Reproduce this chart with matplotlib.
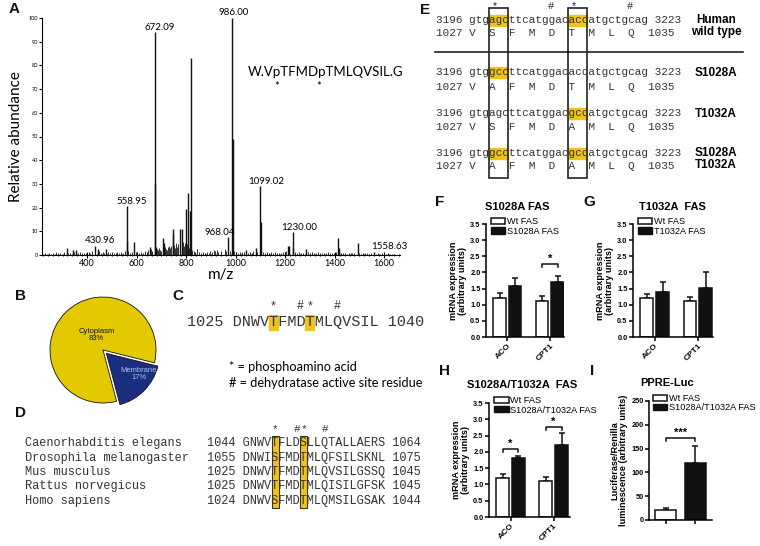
"""Multi-panel FAS phosphorylation figure: MS/MS spectrum, localisation pie,
sequence alignments and qPCR / reporter bar charts."""

import matplotlib
matplotlib.use("Agg")
import matplotlib.pyplot as plt
from matplotlib.patches import Rectangle, Patch

W, H = 760, 546
INK = "#111111"
SEQ = "#333333"
PIE_YELLOW = "#e3c900"
PIE_BLUE = "#1b2f80"
HILITE = "#f0c21c"
MONO = "Liberation Mono"
ARIAL = "Liberation Sans"
HUMAN = "Lato"

# ---- A: MS/MS spectrum (m/z, relative abundance) ----
peak_mz = [317, 342, 356, 430.96, 443, 477, 558.95, 561, 589, 653, 672.09, 674,
           677, 707, 710, 745, 748, 775, 782, 798, 808, 814, 819, 968.04,
           986.00, 988, 1043, 1082, 1099.02, 1101, 1212, 1216, 1230.00, 1232,
           1284, 1414, 1417, 1493, 1558.63]
peak_h = [2.8, 2.0, 2.0, 4.0, 2.5, 2.5, 20.5, 6.0, 5.5, 3.5, 94, 30,
          3.5, 7.0, 5.0, 9.0, 11.0, 11.0, 11.0, 19.5, 26.0, 18.5, 83.0, 7.5,
          100, 49, 2.0, 3.0, 29.0, 14.0, 4.0, 4.0, 9.5, 3.0,
          2.5, 7.0, 3.0, 5.0, 1.2]
labelled_mz = [430.96, 558.95, 672.09, 968.04, 986.00, 1099.02, 1230.00, 1558.63]
noise_mz = [230, 238, 245, 252, 260, 268, 275, 283, 291, 298, 305, 322, 330,
            348, 362, 370, 378, 386, 395, 405, 412, 420, 448, 455, 462, 468,
            484, 492, 500, 508, 515, 522, 530, 538, 545, 552, 566, 573, 580,
            595, 602, 610, 617, 625, 632, 640, 645, 658, 663, 680, 684, 690,
            695, 698, 716, 720, 724, 728, 731, 735, 738, 752, 756, 760, 764,
            768, 786, 790, 793, 803, 811, 824, 830, 836, 842, 850, 858, 866,
            874, 882, 890, 898, 905, 912, 918, 925, 930, 942, 955, 960, 975,
            995, 1003, 1010, 1018, 1025, 1033, 1050, 1057, 1064, 1071, 1088,
            1110, 1118, 1126, 1134, 1142, 1150, 1158, 1166, 1174, 1182, 1190,
            1198, 1205, 1240, 1248, 1256, 1264, 1272, 1292, 1300, 1308, 1316,
            1324, 1332, 1340, 1348, 1356, 1364, 1372, 1380, 1388, 1396, 1404,
            1424, 1432, 1440, 1448, 1456, 1464, 1472, 1480, 1498, 1506, 1514,
            1522, 1530, 1538, 1546, 1566, 1574, 1582, 1590, 1598, 1606, 1614,
            1622, 1630, 1638]
noise_h = [0.8, 0.5, 1.0, 0.6, 0.9, 0.5, 1.1, 0.7, 0.9, 0.6, 1.2, 0.8, 1.0,
           1.4, 0.9, 1.2, 0.7, 1.0, 0.8, 1.2, 0.9, 1.5, 1.6, 1.0, 1.3, 0.9,
           1.2, 0.8, 1.4, 1.0, 0.7, 1.1, 0.9, 1.3, 1.0, 1.5, 1.6, 1.0, 1.3,
           1.1, 1.4, 0.9, 1.3, 1.0, 1.5, 1.2, 2.0, 2.4, 1.5, 2.5, 2.0, 3.0,
           2.2, 1.8, 3.2, 2.5, 2.0, 3.5, 4.0, 2.8, 3.6, 4.2, 3.0, 5.0, 3.5,
           4.5, 5.5, 4.0, 5.0, 4.5, 3.0, 2.0, 1.6, 1.3, 2.5, 1.2, 1.0, 1.4,
           0.9, 1.2, 1.0, 1.6, 1.3, 2.0, 1.5, 2.2, 1.4, 1.8, 2.5, 1.6, 1.8,
           1.5, 1.2, 1.0, 1.3, 1.1, 1.4, 1.0, 1.3, 1.0, 1.5, 1.2,
           1.4, 1.0, 1.2, 0.8, 1.1, 0.9, 1.2, 0.7, 1.0, 0.8, 1.1,
           1.3, 1.6, 1.2, 0.9, 1.1, 0.8, 1.0, 1.2, 0.9, 1.1, 0.8,
           1.0, 1.2, 0.9, 0.7, 1.0, 0.8, 1.1, 0.9, 0.7, 1.0, 1.2,
           1.0, 0.7, 0.9, 0.6, 0.8, 0.7, 0.9, 1.0, 0.8, 0.6, 0.9,
           0.7, 0.8, 0.6, 0.7, 0.6, 0.8, 0.5, 0.7, 0.6, 0.5, 0.7,
           0.5, 0.6, 0.4]
peptide = "W.VpTFMDpTMLQVSIL.G"

# ---- B: subcellular distribution ----
fractions = ["Cytoplasm", "Membrane"]
fraction_pct = [83, 17]

# ---- C / D: peptide and ortholog alignment ----
human_peptide = "1025 DNWVTFMDTMLQVSIL 1040"
species = ["Caenorhabditis elegans", "Drosophila melanogaster", "Mus musculus",
           "Rattus norvegicus", "Homo sapiens"]
orthologs = ["1044 GNWVTFLDSLLQTALLAERS 1064",
             "1055 DNWISFMDTMLQFSILSKNL 1075",
             "1025 DNWVTFMDTMLQVSILGSSQ 1045",
             "1025 DNWVTFMDTMLQISILGFSK 1045",
             "1024 DNWVSFMDTMLQMSILGSAK 1044"]

# ---- E: mutagenesis constructs ----
constructs = ["Human\nwild type", "S1028A", "T1032A", "S1028A\nT1032A"]
codons = ["3196 gtgagcttcatggacaccatgctgcag 3223",
          "3196 gtggccttcatggacaccatgctgcag 3223",
          "3196 gtgagcttcatggacgccatgctgcag 3223",
          "3196 gtggccttcatggacgccatgctgcag 3223"]
residues = ["1027 V  S  F  M  D  T  M  L  Q  1035",
            "1027 V  A  F  M  D  T  M  L  Q  1035",
            "1027 V  S  F  M  D  A  M  L  Q  1035",
            "1027 V  A  F  M  D  A  M  L  Q  1035"]

# ---- F-I: expression / reporter data (mean, SEM) ----
genes = ["ACO", "CPT1"]
f_wt, f_wt_err = [1.22, 1.12], [0.13, 0.14]
f_mut, f_mut_err = [1.57, 1.70], [0.26, 0.18]
g_wt, g_wt_err = [1.22, 1.12], [0.12, 0.13]
g_mut, g_mut_err = [1.38, 1.51], [0.33, 0.49]
h_wt, h_wt_err = [1.21, 1.10], [0.12, 0.13]
h_mut, h_mut_err = [1.82, 2.22], [0.04, 0.36]
i_wt, i_wt_err = [21], [5]
i_mut, i_mut_err = [119], [36]

fig = plt.figure(figsize=(W / 100, H / 100), dpi=100)
fig.patch.set_facecolor("white")

# full-figure overlay in pixel coordinates for text panels and letters
ov = fig.add_axes([0, 0, 1, 1])
ov.set_xlim(0, W)
ov.set_ylim(H, 0)
ov.axis("off")


def px_axes(left, top, right, bottom):
    return fig.add_axes([left / W, 1 - bottom / H, (right - left) / W, (bottom - top) / H])


def cw(fs):
    # advance width of one monospace character, in pixels
    return 0.6 * fs * 100 / 72


for letter, (lx, ly) in {"A": (14, 9), "B": (20, 296), "C": (178, 296), "D": (20, 413),
                         "E": (425, 10), "F": (440, 202), "G": (589, 202),
                         "H": (445, 371), "I": (592, 371)}.items():
    ov.text(lx, ly, letter, family=ARIAL, fontweight="bold", fontsize=11,
            ha="center", va="center", color=INK)

# ---------------- A ----------------
ax = px_axes(42, 18, 400, 255)
ax.vlines(noise_mz, 0, noise_h, color=INK, lw=0.6)
ax.vlines(peak_mz, 0, peak_h, color=INK, lw=1.0)
ax.set_xlim(217, 1664)
ax.set_ylim(0, 100)
for s in ("top", "right"):
    ax.spines[s].set_visible(False)
ax.set_xticks(range(400, 1601, 200))
ax.set_xticks(range(220, 1661, 20), minor=True)
ax.set_yticks(range(0, 101, 10))
ax.tick_params(axis="x", which="major", direction="inout", length=4, labelsize=6.5, pad=1)
ax.tick_params(axis="x", which="minor", direction="inout", length=2)
ax.tick_params(axis="y", direction="out", length=2, labelsize=4, pad=1)
for t in ax.get_xticklabels() + ax.get_yticklabels():
    t.set_family(HUMAN)
ax.set_xlabel("m/z", family=HUMAN, fontsize=11, labelpad=0)
ax.set_ylabel("Relative abundance", family=HUMAN, fontsize=11, labelpad=4)
label_dx = {430.96: 4, 558.95: 4, 672.09: 4, 968.04: -6, 986.00: 1,
            1099.02: 4, 1230.00: 5, 1558.63: 11}
for mz in labelled_mz:
    hgt = peak_h[peak_mz.index(mz)]
    ax.annotate(f"{mz:.2f}", (mz, hgt), xytext=(label_dx[mz], 0.5),
                textcoords="offset points", ha="center", va="bottom",
                family=HUMAN, fontsize=7, annotation_clip=False)
ax.text(0.574, 0.773, peptide, transform=ax.transAxes, family=HUMAN, fontsize=9.5,
        ha="left", va="center")
ax.text(0.656, 0.71, "*", transform=ax.transAxes, family=HUMAN, fontsize=8, ha="center", va="center")
ax.text(0.773, 0.71, "*", transform=ax.transAxes, family=HUMAN, fontsize=8, ha="center", va="center")

# ---------------- B ----------------
r_px = 53
box = r_px * 2.3
bx = px_axes(103 - box / 2, 350 - box / 2, 103 + box / 2, 350 + box / 2)
wedges, _ = bx.pie(fraction_pct, colors=[PIE_YELLOW, PIE_BLUE], startangle=-14,
                   explode=[0, 0.09], wedgeprops=dict(edgecolor=INK, linewidth=0.6))
bx.set_xlim(-1.15, 1.15)
bx.set_ylim(-1.15, 1.15)
bx.set_aspect("equal")
bx.text(-0.12, 0.28, f"{fractions[0]}\n{fraction_pct[0]}%", ha="center", va="center",
        family=ARIAL, fontsize=5.5, color=INK, linespacing=0.95)
bx.text(0.68, -0.45, f"{fractions[1]}\n{fraction_pct[1]}%", ha="center", va="center",
        family=ARIAL, fontsize=5.5, color="#a9c4f0", linespacing=0.95)

# ---------------- C ----------------
fs_c = 10.9
x0c, yc = 187, 322
for col in (9, 13):
    ov.add_patch(Rectangle((x0c + col * cw(fs_c), yc - 7.5), cw(fs_c), 15,
                           color=HILITE, zorder=0))
ov.text(x0c, yc, human_peptide, family=MONO, fontsize=fs_c, ha="left", va="center", color=SEQ)
for col, mark in ((9, "*"), (12, "#"), (13, "*"), (16, "#")):
    ov.text(x0c + (col + 0.5) * cw(fs_c), 306, mark, family=MONO, fontsize=8.5,
            ha="center", va="center", color=SEQ)
ov.text(229, 367, "* = phosphoamino acid", family=HUMAN, fontsize=9.2, ha="left", va="center")
ov.text(229, 383, "# = dehydratase active site residue", family=HUMAN, fontsize=9.2,
        ha="left", va="center")

# ---------------- D ----------------
fs_d = 8.6
x0d = 207
row_y = [443 + 14.5 * i for i in range(len(species))]
for col in (9, 13):
    ov.add_patch(Rectangle((x0d + col * cw(fs_d), 436), cw(fs_d), 72,
                           facecolor=HILITE, edgecolor="#333", lw=0.8, zorder=0))
for y, name, seq in zip(row_y, species, orthologs):
    ov.text(25, y, name, family=MONO, fontsize=fs_d, ha="left", va="center", color=SEQ)
    ov.text(x0d, y, seq, family=MONO, fontsize=fs_d, ha="left", va="center", color=SEQ)
for col, mark in ((9, "*"), (12, "#"), (13, "*"), (16, "#")):
    ov.text(x0d + (col + 0.5) * cw(fs_d), 429, mark, family=MONO, fontsize=8,
            ha="center", va="center", color=SEQ)

# ---------------- E ----------------
fs_e = 7.9
x0e = 436
nt_y = [20, 72, 113, 153]
aa_y = [33, 87, 127, 166]
for i, (nt, aa) in enumerate(zip(codons, residues)):
    for col in (8, 20):
        wt_codon = codons[0][col:col + 3]
        if i == 0 or nt[col:col + 3] != wt_codon:
            ov.add_patch(Rectangle((x0e + col * cw(fs_e), nt_y[i] - 5.5), 3 * cw(fs_e), 11,
                                   color=HILITE, zorder=0))
    ov.text(x0e, nt_y[i], nt, family=MONO, fontsize=fs_e, ha="left", va="center", color=SEQ)
    ov.text(x0e, aa_y[i], aa, family=MONO, fontsize=fs_e, ha="left", va="center", color=SEQ)
for col in (8, 20):
    ov.add_patch(Rectangle((x0e + col * cw(fs_e), 8), 3 * cw(fs_e), 170,
                           fill=False, edgecolor="#222", lw=1.2))
for col, mark in ((8.5, "*"), (17, "#"), (20.5, "*"), (29, "#")):
    ov.text(x0e + (col + 0.5) * cw(fs_e), 6, mark, family=MONO, fontsize=7.5,
            ha="center", va="center", color="#222")
ov.plot([435, 743], [52, 52], color="#222", lw=1.2)
label_y = [26, 73, 114, 159]
for y, lab in zip(label_y, constructs):
    ov.text(716, y, lab, family=ARIAL, fontweight="bold", fontsize=8.5, ha="center",
            va="center", linespacing=1.05)


# ---------------- F-I ----------------
def bar_panel(ax, wt, wt_err, mut, mut_err, mut_label, ylim, yticks, fmt,
              ylabel, centers_wt, centers_mut, width, xlim):
    ax.bar(centers_wt, wt, width, color="white", edgecolor=INK, lw=1.1, zorder=2)
    ax.bar(centers_mut, mut, width, color=INK, edgecolor=INK, lw=1.1, zorder=2)
    ax.errorbar(centers_wt, wt, yerr=[[0] * len(wt), wt_err], fmt="none", ecolor=INK,
                elinewidth=1.1, capsize=2.5, capthick=1.1, zorder=1)
    ax.errorbar(centers_mut, mut, yerr=[[0] * len(mut), mut_err], fmt="none", ecolor=INK,
                elinewidth=1.1, capsize=2.5, capthick=1.1, zorder=1)
    ax.set_xlim(*xlim)
    ax.set_ylim(*ylim)
    ax.set_yticks(yticks, [fmt.format(v) for v in yticks])
    for s in ("top", "right"):
        ax.spines[s].set_visible(False)
    for s in ("left", "bottom"):
        ax.spines[s].set_linewidth(1.1)
    ax.tick_params(axis="y", length=3, width=1.1, pad=1, labelsize=5.3)
    ax.tick_params(axis="x", length=3, width=1.1, pad=1, labelsize=6)
    for t in ax.get_yticklabels():
        t.set_fontweight("bold")
        t.set_family(ARIAL)
    ax.set_ylabel(ylabel, family=ARIAL, fontweight="bold", fontsize=6.6, labelpad=2,
                  linespacing=1.0)
    handles = [Patch(facecolor="white", edgecolor=INK, lw=1.1, label="Wt FAS"),
               Patch(facecolor=INK, edgecolor=INK, label=mut_label)]
    ax.legend(handles=handles, loc="upper left", bbox_to_anchor=(0.06, 1.06), frameon=False,
              prop=dict(family=ARIAL, size=6.6), handlelength=1.6,
              handleheight=0.65, handletextpad=0.15, labelspacing=0.05, borderpad=0,
              borderaxespad=0)


def bracket(ax, x1, x2, y, drop, label):
    ax.plot([x1, x1, x2, x2], [y - drop, y, y, y - drop], color=INK, lw=1.1, clip_on=False)
    ax.text((x1 + x2) / 2, y, label, ha="center", va="bottom", family=ARIAL,
            fontweight="bold", fontsize=8, clip_on=False)


wt_x, mut_x = [1.05, 4.35], [2.25, 5.55]
mrna = "mRNA expression\n(arbitrary units)"
yt = [0, 0.5, 1.0, 1.5, 2.0, 2.5, 3.0, 3.5]


def gene_ticks(ax):
    ax.set_xticks([(a + b) / 2 for a, b in zip(wt_x, mut_x)])
    ax.set_xticklabels(genes, rotation=45, ha="right", rotation_mode="anchor",
                       family=ARIAL, fontweight="bold", fontsize=6)


fx = px_axes(486, 224, 564, 337)
bar_panel(fx, f_wt, f_wt_err, f_mut, f_mut_err, "S1028A FAS", (0, 3.5), yt, "{:.1f}",
          mrna, wt_x, mut_x, 0.98, (0, 6.05))
gene_ticks(fx)
bracket(fx, wt_x[1], mut_x[1], 2.26, 0.1, "*")

gx = px_axes(633, 224, 713, 337)
bar_panel(gx, g_wt, g_wt_err, g_mut, g_mut_err, "T1032A FAS", (0, 3.5), yt, "{:.1f}",
          mrna, wt_x, mut_x, 0.98, (0, 6.1))
gene_ticks(gx)

hx = px_axes(489, 403, 570, 517)
bar_panel(hx, h_wt, h_wt_err, h_mut, h_mut_err, "S1028A/T1032A FAS", (0, 3.5), yt, "{:.1f}",
          mrna, wt_x, mut_x, 0.98, (0, 6.2))
gene_ticks(hx)
bracket(hx, wt_x[0], mut_x[0], 2.10, 0.1, "*")
bracket(hx, wt_x[1], mut_x[1], 2.76, 0.1, "*")

ix = px_axes(649, 401, 712, 520)
bar_panel(ix, i_wt, i_wt_err, i_mut, i_mut_err, "S1028A/T1032A FAS", (0, 250),
          [0, 50, 100, 150, 200, 250], "{:d}",
          "Luciferase/Renilla\nluminescence (arbitrary units)", [0.8], [2.2], 1.0, (0, 3.0))
ix.set_xticks([0.8, 2.2], ["", ""])
bracket(ix, 0.8, 2.2, 173, 7, "***")

for x, y, title in ((517, 207, "S1028A FAS"), (672, 207, "T1032A  FAS"),
                    (522, 385, "S1028A/T1032A  FAS"), (667, 383, "PPRE-Luc")):
    ov.text(x, y, title, family=ARIAL, fontweight="bold", fontsize=8, ha="center", va="center")

fig.savefig("out.png", dpi=100, facecolor="white")
